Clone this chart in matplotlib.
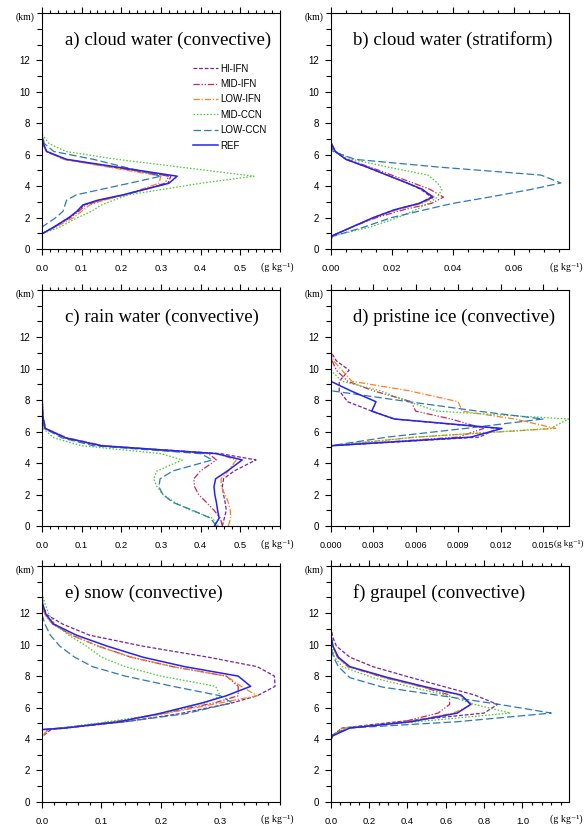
import matplotlib
matplotlib.use('Agg')
import matplotlib.pyplot as plt
from matplotlib.ticker import MultipleLocator, FixedLocator

# series names (legend order)
names = ['HI-IFN', 'MID-IFN', 'LOW-IFN', 'MID-CCN', 'LOW-CCN', 'REF']

# a) cloud water (convective)
z_a = [0, 0.97, 1.4, 2.0, 2.4, 2.8, 3.1, 3.45, 4.18, 4.63, 5.7, 6.2, 6.7, 7.3, 15]
cloud_conv = {
    'HI-IFN':  [0, 0, 0.03, 0.068, 0.09, 0.105, 0.145, 0.21, 0.318, 0.325, 0.058, 0.011, 0.003, 0, 0],
    'MID-IFN': [0, 0, 0.032, 0.072, 0.093, 0.11, 0.15, 0.21, 0.31, 0.32, 0.058, 0.011, 0.003, 0, 0],
    'LOW-IFN': [0, 0, 0.035, 0.08, 0.1, 0.12, 0.155, 0.21, 0.295, 0.30, 0.055, 0.01, 0.003, 0, 0],
    'MID-CCN': [0, 0, 0.045, 0.09, 0.125, 0.15, 0.18, 0.22, 0.40, 0.535, 0.19, 0.06, 0.018, 0, 0],
    'LOW-CCN': [0, 0, 0.0, 0.035, 0.053, 0.058, 0.062, 0.087, 0.22, 0.30, 0.13, 0.03, 0.006, 0, 0],
    'REF':     [0, 0, 0.03, 0.068, 0.088, 0.103, 0.14, 0.205, 0.32, 0.341, 0.062, 0.012, 0.003, 0, 0],
}

# b) cloud water (stratiform)
z_b = [0, 0.8, 1.4, 2.0, 2.5, 2.9, 3.3, 3.8, 4.2, 4.7, 5.2, 5.7, 6.2, 6.8, 15]
cloud_strat = {
    'HI-IFN':  [0, 0, 0.007, 0.014, 0.021, 0.029, 0.033, 0.0295, 0.025, 0.0185, 0.012, 0.005, 0.0015, 0, 0],
    'MID-IFN': [0, 0, 0.007, 0.015, 0.024, 0.033, 0.037, 0.0325, 0.027, 0.02, 0.013, 0.0055, 0.0015, 0, 0],
    'LOW-IFN': [0, 0, 0.007, 0.014, 0.022, 0.030, 0.034, 0.030, 0.025, 0.0185, 0.012, 0.005, 0.0015, 0, 0],
    'MID-CCN': [0, 0, 0.013, 0.022, 0.028, 0.032, 0.035, 0.0365, 0.035, 0.032, 0.019, 0.007, 0.0015, 0, 0],
    'LOW-CCN': [0, 0.0005, 0.011, 0.02, 0.031, 0.040, 0.052, 0.066, 0.0755, 0.069, 0.036, 0.008, 0.0008, 0, 0],
    'REF':     [0, 0, 0.007, 0.014, 0.021, 0.029, 0.0335, 0.030, 0.025, 0.0185, 0.012, 0.005, 0.0015, 0, 0],
}

# c) rain water (convective)
z_c = [0, 0.5, 1.0, 1.5, 2.0, 2.5, 3.0, 3.5, 4.2, 4.6, 5.1, 5.6, 6.2, 7.0, 8.5, 15]
rain_conv = {
    'HI-IFN':  [0.455, 0.46, 0.465, 0.462, 0.458, 0.455, 0.458, 0.485, 0.54, 0.45, 0.15, 0.06, 0.008, 0.002, 0, 0],
    'MID-IFN': [0.455, 0.45, 0.434, 0.415, 0.395, 0.385, 0.383, 0.40, 0.44, 0.42, 0.15, 0.06, 0.008, 0.002, 0, 0],
    'LOW-IFN': [0.47, 0.476, 0.475, 0.47, 0.462, 0.452, 0.452, 0.47, 0.49, 0.44, 0.16, 0.065, 0.01, 0.002, 0, 0],
    'MID-CCN': [0.445, 0.43, 0.375, 0.335, 0.305, 0.29, 0.282, 0.29, 0.354, 0.30, 0.10, 0.03, 0.003, 0, 0, 0],
    'LOW-CCN': [0.44, 0.425, 0.38, 0.33, 0.305, 0.295, 0.298, 0.33, 0.43, 0.40, 0.13, 0.05, 0.006, 0, 0, 0],
    'REF':     [0.435, 0.447, 0.443, 0.440, 0.436, 0.434, 0.438, 0.468, 0.505, 0.44, 0.15, 0.06, 0.008, 0.002, 0, 0],
}

# d) pristine ice (convective)
z_d = [0, 5.1, 5.65, 6.2, 6.8, 7.3, 7.9, 8.6, 9.2, 9.9, 10.5, 11.1, 15]
ice_conv = {
    'HI-IFN':  [0, 0, 0.0105, 0.0118, 0.0045, 0.0029, 0.0012, 0.0006, 0.0006, 0.0013, 0.0004, 0, 0],
    'MID-IFN': [0, 0, 0.009, 0.0108, 0.0085, 0.006, 0.0057, 0.003, 0.0012, 0.0004, 0.0001, 0, 0],
    'LOW-IFN': [0, 0, 0.006, 0.0159, 0.013, 0.0093, 0.0090, 0.0055, 0.0015, 0.0008, 0.0002, 0, 0],
    'MID-CCN': [0, 0, 0.006, 0.0155, 0.0168, 0.0075, 0.0055, 0.0035, 0.0008, 0, 0, 0, 0],
    'LOW-CCN': [0, 0, 0.004, 0.0095, 0.0150, 0.0104, 0.0055, 0, 0, 0, 0, 0, 0],
    'REF':     [0, 0, 0.0099, 0.0121, 0.0045, 0.0029, 0.0032, 0.0014, 0, 0, 0, 0, 0],
}

# e) snow (convective)
z_e = [0, 4.15, 4.6, 4.7, 5.1, 5.6, 6.3, 6.75, 7.35, 8.0, 8.6, 9.2, 9.9, 10.6, 11.3, 11.9, 12.6, 13.3, 15]
snow_conv = {
    'HI-IFN':  [0, 0, 0.015, 0.04, 0.14, 0.23, 0.32, 0.362, 0.392, 0.391, 0.362, 0.28, 0.17, 0.08, 0.035, 0.008, 0, 0, 0],
    'MID-IFN': [0, 0, 0.01, 0.035, 0.12, 0.2, 0.29, 0.33, 0.33, 0.31, 0.22, 0.15, 0.095, 0.05, 0.018, 0.005, 0, 0, 0],
    'LOW-IFN': [0, 0, 0.01, 0.035, 0.125, 0.205, 0.3, 0.362, 0.335, 0.31, 0.22, 0.15, 0.095, 0.05, 0.018, 0.005, 0, 0, 0],
    'MID-CCN': [0, 0, 0, 0.03, 0.11, 0.2, 0.275, 0.30, 0.292, 0.2, 0.14, 0.1, 0.075, 0.045, 0.022, 0.012, 0.005, 0, 0],
    'LOW-CCN': [0, 0, 0, 0.03, 0.14, 0.24, 0.32, 0.30, 0.22, 0.14, 0.085, 0.055, 0.03, 0.014, 0.005, 0, 0, 0, 0],
    'REF':     [0, 0, 0, 0.04, 0.13, 0.195, 0.27, 0.31, 0.351, 0.33, 0.24, 0.17, 0.11, 0.058, 0.02, 0.007, 0.001, 0, 0],
}

# f) graupel (convective)
z_f = [0, 3.9, 4.2, 4.7, 5.1, 5.65, 6.2, 6.8, 7.3, 7.9, 8.6, 9.2, 9.9, 10.5, 11.2, 15]
graupel_conv = {
    'HI-IFN':  [0, 0, 0.005, 0.06, 0.35, 0.80, 0.87, 0.75, 0.60, 0.42, 0.22, 0.1, 0.03, 0.01, 0, 0],
    'MID-IFN': [0, 0, 0.005, 0.08, 0.38, 0.56, 0.62, 0.62, 0.48, 0.28, 0.09, 0.035, 0.01, 0.002, 0, 0],
    'LOW-IFN': [0, 0, 0.005, 0.08, 0.40, 0.64, 0.74, 0.67, 0.48, 0.28, 0.09, 0.035, 0.01, 0.002, 0, 0],
    'MID-CCN': [0, 0, 0.005, 0.06, 0.45, 0.937, 0.75, 0.60, 0.42, 0.22, 0.06, 0.02, 0.003, 0, 0, 0],
    'LOW-CCN': [0, 0, 0.0, 0.10, 0.66, 1.15, 0.88, 0.55, 0.27, 0.10, 0.04, 0.015, 0, 0, 0, 0],
    'REF':     [0, 0, 0.01, 0.1, 0.42, 0.66, 0.73, 0.68, 0.50, 0.30, 0.10, 0.04, 0.012, 0.003, 0, 0],
}

# labelled x ticks of each panel
xt_a = [0.0, 0.1, 0.2, 0.3, 0.4, 0.5]
xt_b = [0.0, 0.02, 0.04, 0.06]
xt_c = [0.0, 0.1, 0.2, 0.3, 0.4, 0.5]
xt_d = [0.0, 0.003, 0.006, 0.009, 0.012, 0.015]
xt_e = [0.0, 0.1, 0.2, 0.3]
xt_f = [0.0, 0.2, 0.4, 0.6, 0.8, 1.0]

styles = {
    'HI-IFN':  dict(color='#7B1FA2', lw=0.9, dashes=(3, 1.5)),
    'MID-IFN': dict(color='#C8285A', lw=0.9, dashes=(5, 1.5, 1, 1.5, 1, 1.5)),
    'LOW-IFN': dict(color='#FF8020', lw=0.9, dashes=(5, 1.5, 1, 1.5)),
    'MID-CCN': dict(color='#44CC22', lw=0.9, dashes=(1.2, 1.5)),
    'LOW-CCN': dict(color='#2D79B5', lw=0.9, dashes=(6, 2.5)),
    'REF':     dict(color='#2424F0', lw=1.1),
}

serif = ['Liberation Serif', 'DejaVu Serif']
sans = ['Liberation Sans', 'DejaVu Sans']

fig = plt.figure(figsize=(5.85, 8.26), dpi=100)

# title, heights, data, xmax, x ticks, minor step, format, (left, bottom)
panels = [
    ('a) cloud water (convective)', z_a, cloud_conv, 0.6, xt_a, 0.02, '%.1f', (0.0718, 0.6985)),
    ('b) cloud water (stratiform)', z_b, cloud_strat, 0.078, xt_b, 0.005, '%.2f', (0.5653, 0.6985)),
    ('c) rain water (convective)', z_c, rain_conv, 0.6, xt_c, 0.02, '%.1f', (0.0718, 0.3632)),
    ('d) pristine ice (convective)', z_d, ice_conv, 0.0168, xt_d, 0.001, '%.3f', (0.5653, 0.3632)),
    ('e) snow (convective)', z_e, snow_conv, 0.4, xt_e, 0.02, '%.1f', (0.0718, 0.0291)),
    ('f) graupel (convective)', z_f, graupel_conv, 1.24, xt_f, 0.05, '%.1f', (0.5653, 0.0291)),
]

for i, (title, z, data, xmax, xticks, minor, fmt, pos) in enumerate(panels):
    ax = fig.add_axes([pos[0], pos[1], 0.4065, 0.2857])
    for name in names:
        ax.plot(data[name], z, label=name, **styles[name])
    ax.set_xlim(0, xmax)
    ax.set_ylim(0, 15)

    ax.xaxis.set_major_locator(FixedLocator(xticks))
    ax.xaxis.set_minor_locator(MultipleLocator(minor))
    ax.xaxis.set_major_formatter(matplotlib.ticker.FormatStrFormatter(fmt))
    ax.yaxis.set_major_locator(FixedLocator([0, 2, 4, 6, 8, 10, 12]))
    ax.yaxis.set_minor_locator(MultipleLocator(1))

    xsize = 6.5 if i == 3 else 6.8
    ax.xaxis.set_ticks_position('both')
    ax.tick_params(axis='x', which='major', direction='out', length=4, width=0.8, pad=7, labelsize=xsize)
    ax.tick_params(axis='x', which='minor', direction='out', length=2.5, width=0.8)
    ax.tick_params(axis='y', which='major', direction='out', length=4.5, width=0.8, pad=4, labelsize=7,
                   right=False)
    ax.tick_params(axis='y', which='minor', direction='out', length=3.5, width=0.8, right=False)
    for lab in ax.get_xticklabels() + ax.get_yticklabels():
        lab.set_family(sans)
    for sp in ax.spines.values():
        sp.set_linewidth(0.8)

    ax.text(0.095, 0.885, title, transform=ax.transAxes, ha='left', va='center',
            fontsize=13.5, family=serif)
    ax.text(-0.03, 0.982, '(km)', transform=ax.transAxes, ha='right', va='center',
            fontsize=7, family=serif)
    if i == 3:
        # squeezed against the right edge of the figure
        ax.text(1.062, -0.075, '(g kg\u207b\u00b9)', transform=ax.transAxes, ha='right',
                va='center', fontsize=6.6, family=serif)
    else:
        ax.text(0.922, -0.075, '(g kg\u207b\u00b9)', transform=ax.transAxes, ha='left',
                va='center', fontsize=7.2, family=serif)

    if i == 0:
        ax.legend(loc='upper left', bbox_to_anchor=(0.635, 0.785), frameon=False,
                  prop={'family': sans, 'size': 7}, handlelength=2.6,
                  handletextpad=0.2, labelspacing=0.55, borderpad=0, borderaxespad=0)

plt.savefig('out.png', dpi=100)
